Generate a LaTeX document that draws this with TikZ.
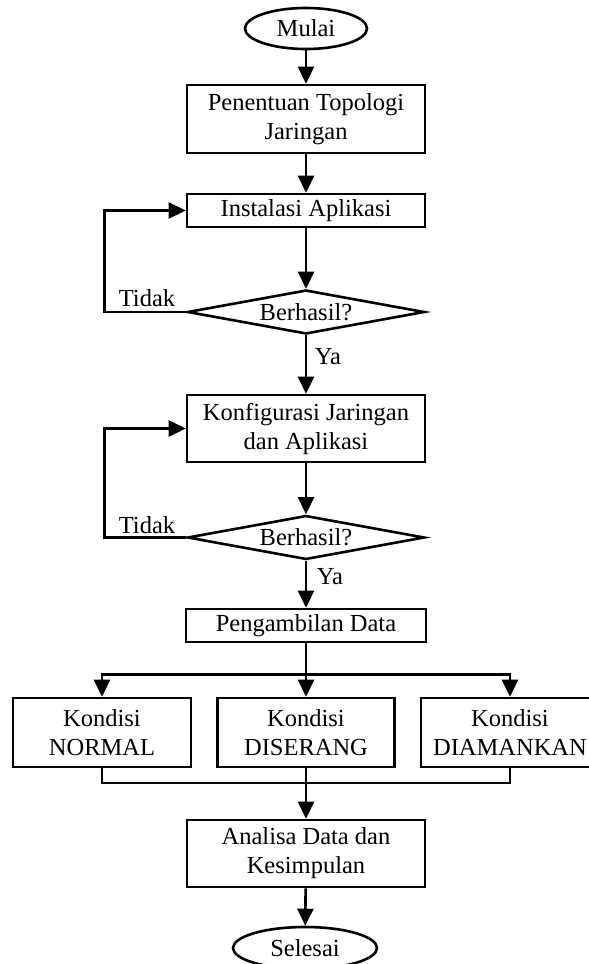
\documentclass[tikz,border=0pt]{standalone}
\usepackage{fontspec}
\setmainfont{Liberation Serif}
\usetikzlibrary{arrows.meta, positioning, shapes.geometric}

\begin{document}
\begin{tikzpicture}[
    x=1pt, y=-1pt,
    proc/.style={draw, line width=2.6pt, rectangle, align=center, inner sep=0pt, minimum width=238pt},
    dec/.style={draw, line width=2.6pt, diamond, aspect=5.5, inner sep=0pt, minimum width=237pt, minimum height=44pt},
    term/.style={draw, line width=2.6pt, ellipse, inner sep=0pt, minimum height=41pt},
    link/.style={line width=2.6pt, -{Triangle[length=17pt,width=16pt]}},
    wire/.style={line width=2.6pt},
    font=\fontsize{24.5}{29}\selectfont
]
\clip (0,0) rectangle (589,964);

% Nodes
\node[term, minimum width=122pt] (mulai) at (306,28.5) {Mulai};
\node[proc, minimum height=68pt] (topo) at (306,119) {Penentuan Topologi\\Jaringan};
\node[proc, minimum height=33pt] (instal) at (306,210.5) {Instalasi Aplikasi};
\node[dec] (cek1) at (306,312) {Berhasil?};
\node[proc, minimum height=67pt] (konfig) at (306,428.5) {Konfigurasi Jaringan\\dan Aplikasi};
\node[dec] (cek2) at (306,537.5) {Berhasil?};
\node[proc, minimum height=33pt, minimum width=240pt] (ambil) at (306,625.5) {Pengambilan Data};
\node[proc, minimum height=69pt, minimum width=178pt] (kn) at (102,732.5) {Kondisi\\NORMAL};
\node[proc, minimum height=69pt, minimum width=177pt] (kd) at (306,732.5) {Kondisi\\DISERANG};
\node[proc, minimum height=69pt, minimum width=178pt] (ka) at (510,732.5) {Kondisi\\DIAMANKAN};
\node[proc, minimum height=67pt] (analisa) at (306,853.5) {Analisa Data dan\\Kesimpulan};
\node[term, minimum width=144pt, minimum height=42pt] (selesai) at (305,948) {Selesai};

% Labels
\node (tidak1) at (147,298) {Tidak};
\node (ya1) at (328,357) {Ya};
\node (tidak2) at (147,525) {Tidak};
\node (ya2) at (330,577) {Ya};

% Connectors
\draw[link] (mulai) -- (topo);
\draw[link] (topo) -- (instal);
\draw[link] (instal) -- (cek1);
\draw[link] (cek1.west) -- ++(-82,0) |- (instal.west);
\draw[link] (cek1) -- (konfig);
\draw[link] (konfig) -- (cek2);
\draw[link] (cek2.west) -- ++(-82,0) |- (konfig.west);
\draw[link] (cek2) -- (ambil);

\coordinate (pisah) at (306,674.5);
\draw[wire] (ambil) -- (pisah);
\draw[link] (pisah) -| (kn);
\draw[link] (pisah) -- (kd);
\draw[link] (pisah) -| (ka);

\coordinate (gabung) at (306,783);
\draw[wire] (kn) |- (gabung);
\draw[wire] (ka) |- (gabung);
\draw[wire] (kd) -- (gabung);
\draw[link] (gabung) -- (analisa);
\draw[link] (analisa) -- (selesai);

\end{tikzpicture}
\end{document}
